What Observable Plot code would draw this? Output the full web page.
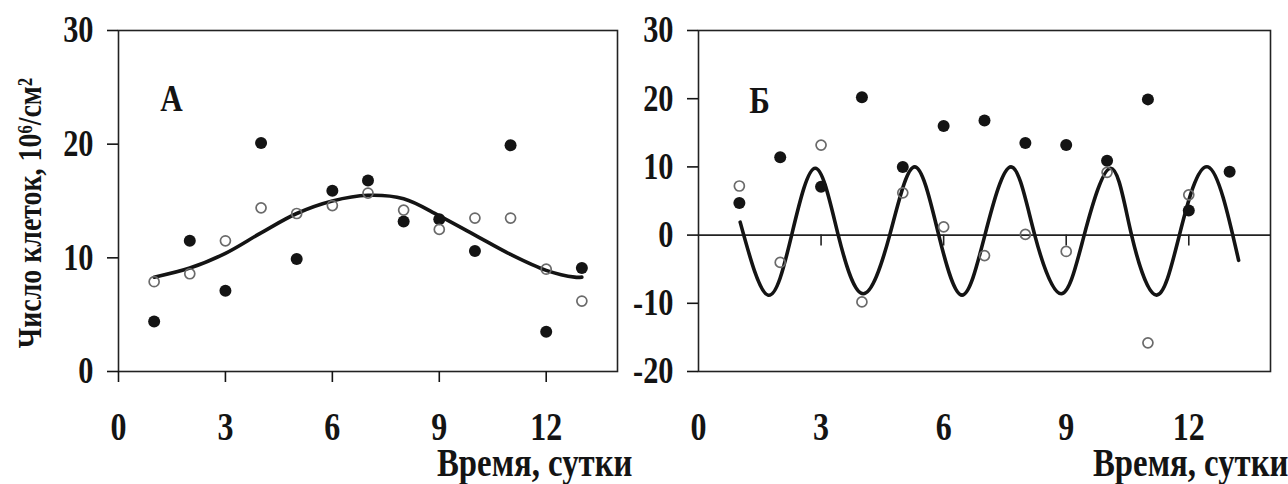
<!DOCTYPE html>
<html>
<head>
<meta charset="utf-8">
<script src="https://cdn.jsdelivr.net/npm/d3@7"></script>
<script src="https://cdn.jsdelivr.net/npm/@observablehq/plot@0.6"></script>
<style>
  html, body { margin: 0; padding: 0; background: white; }
  #wrap { display: flex; width: 1288px; height: 484px; overflow: hidden; }
  #wrap svg { overflow: visible; }
</style>
</head>
<body>
<div id="wrap"></div>
<script>
// ---- data ----
const days = [1, 2, 3, 4, 5, 6, 7, 8, 9, 10, 11, 12, 13];

// Panel А: raw counts
const filledA = [4.4, 11.5, 7.1, 20.1, 9.9, 15.9, 16.8, 13.2, 13.4, 10.6, 19.9, 3.5, 9.1];
const openA   = [7.9, 8.6, 11.5, 14.4, 13.9, 14.6, 15.7, 14.2, 12.5, 13.5, 13.5, 9.0, 6.2];
const curveADays   = [1, 2, 3, 4, 5, 6, 7, 8, 9, 10, 11, 12, 12.8, 13];
const curveAValues = [8.3, 9.1, 10.4, 12.2, 13.9, 15.0, 15.5, 15.2, 13.7, 12.0, 10.3, 8.9, 8.3, 8.3];

// Panel Б: counts and residuals
const filledB = [4.7, 11.4, 7.1, 20.2, 10.0, 16.0, 16.8, 13.5, 13.2, 10.9, 19.9, 3.6, 9.3];
const openBDays = [1, 2, 3, 4, 5, 6, 7, 8, 9, 10, 11, 12];
const openB   = [7.2, -4.0, 13.2, -9.8, 6.2, 1.2, -3.0, 0.1, -2.4, 9.2, -15.8, 5.9];
const curveBDays   = [1.02, 1.7, 2.28, 2.86, 3.42, 4.03, 4.68, 5.29, 5.88, 6.45, 7.01, 7.65, 8.23, 8.88, 9.44, 10.09, 10.6, 11.21, 11.77, 12.47, 13.22];
const curveBValues = [1.9, -8.8, 0, 9.8, 0, -8.6, 0, 10.0, 0, -8.8, 0, 10.0, 0, -8.6, 0, 9.8, 0, -8.8, 0, 10.0, -3.7];

const xTicks  = [0, 3, 6, 9, 12];
const yTicksA = [0, 10, 20, 30];
const yTicksB = [-20, -10, 0, 10, 20, 30];
const zeroLineTicks = [3, 6, 9, 12];
const yLabel = "Число клеток, 10⁶/см²";
const xLabel = "Время, сутки";
const panelA = "А";
const panelB = "Б";

// ---- tables ----
const ptsFilledA = days.map((d, i) => ({day: d, v: filledA[i]}));
const ptsOpenA   = days.map((d, i) => ({day: d, v: openA[i]}));
const lineA      = curveADays.map((d, i) => ({day: d, v: curveAValues[i]}));
const ptsFilledB = days.map((d, i) => ({day: d, v: filledB[i]}));
const ptsOpenB   = openBDays.map((d, i) => ({day: d, v: openB[i]}));
const lineB      = curveBDays.map((d, i) => ({day: d, v: curveBValues[i]}));

const font = "'Liberation Serif', 'Times New Roman', Times, serif";
const ink = "#141414";

function condense(svg, sx) {
  svg.querySelectorAll("text").forEach(t => {
    if (t.closest('[aria-label="panel-letter"]')) return;
    const tr = t.getAttribute("transform");
    if (tr) {
      t.setAttribute("transform", tr + ` scale(${sx},1)`);
    } else {
      const x = +t.getAttribute("x") || 0;
      t.removeAttribute("x");
      t.setAttribute("transform", `translate(${x},0) scale(${sx},1)`);
    }
  });
}

const left = Plot.plot({
  width: 644, height: 484,
  marginLeft: 118, marginRight: 27, marginTop: 30, marginBottom: 113,
  style: {fontFamily: font, color: ink, background: "white", overflow: "visible"},
  x: {domain: [0, 14]},
  y: {domain: [0, 30]},
  marks: [
    Plot.frame({stroke: "#222", strokeWidth: 1.6}),
    Plot.axisY({ticks: yTicksA, tickSize: 11, tickPadding: 14, fontSize: 37, fontWeight: "bold", label: null, strokeWidth: 1.6, tickFormat: d => String(d)}),
    Plot.axisX({ticks: xTicks, tickSize: 11, tickPadding: 30, fontSize: 39, fontWeight: "bold", label: null, strokeWidth: 1.6, tickFormat: d => String(d)}),
    Plot.line(lineA, {x: "day", y: "v", curve: "catmull-rom", stroke: ink, strokeWidth: 3.6}),
    Plot.dot(ptsFilledA, {x: "day", y: "v", r: 6, fill: ink, stroke: "none"}),
    Plot.dot(ptsOpenA, {x: "day", y: "v", r: 5, fill: "none", stroke: "#6a6a6a", strokeWidth: 1.7}),
    Plot.text([panelA], {frameAnchor: "top-left", dx: 53, dy: 68, fontSize: 38, fontWeight: "bold", textAnchor: "middle", lineAnchor: "middle", fill: ink, ariaLabel: "panel-letter"}),
    Plot.text([yLabel], {frameAnchor: "left", rotate: -90, dx: -78, dy: 12, fontSize: 34, fontWeight: "bold", textAnchor: "middle", lineAnchor: "bottom", fill: ink}),
    Plot.text([xLabel], {frameAnchor: "bottom-right", dx: 15, dy: 104, fontSize: 40, fontWeight: "bold", textAnchor: "end", lineAnchor: "bottom", fill: ink})
  ]
});

const right = Plot.plot({
  width: 644, height: 484,
  marginLeft: 54, marginRight: 18, marginTop: 30, marginBottom: 113,
  style: {fontFamily: font, color: ink, background: "white", overflow: "visible"},
  x: {domain: [0, 14]},
  y: {domain: [-20, 30]},
  marks: [
    Plot.frame({stroke: "#222", strokeWidth: 1.6}),
    Plot.axisY({ticks: yTicksB, tickSize: 11, tickPadding: 14, fontSize: 37, fontWeight: "bold", label: null, strokeWidth: 1.6, tickFormat: d => String(d)}),
    Plot.axisX({ticks: xTicks, tickSize: 0, tickPadding: 41, fontSize: 39, fontWeight: "bold", label: null, tickFormat: d => String(d)}),
    Plot.ruleY([0], {stroke: "#222", strokeWidth: 1.6}),
    Plot.ruleX(zeroLineTicks, {y1: 0, y2: -1.6, stroke: "#222", strokeWidth: 1.6}),
    Plot.line(lineB, {x: "day", y: "v", curve: "natural", stroke: ink, strokeWidth: 3.6}),
    Plot.dot(ptsFilledB, {x: "day", y: "v", r: 6, fill: ink, stroke: "none"}),
    Plot.dot(ptsOpenB, {x: "day", y: "v", r: 5, fill: "none", stroke: "#6a6a6a", strokeWidth: 1.7}),
    Plot.text([panelB], {frameAnchor: "top-left", dx: 61, dy: 70, fontSize: 38, fontWeight: "bold", textAnchor: "middle", lineAnchor: "middle", fill: ink, ariaLabel: "panel-letter"}),
    Plot.text([xLabel], {frameAnchor: "bottom-right", dx: 18, dy: 104, fontSize: 40, fontWeight: "bold", textAnchor: "end", lineAnchor: "bottom", fill: ink})
  ]
});

condense(left, 0.82);
condense(right, 0.82);
const wrap = document.getElementById("wrap");
wrap.appendChild(left);
wrap.appendChild(right);
</script>
</body>
</html>
